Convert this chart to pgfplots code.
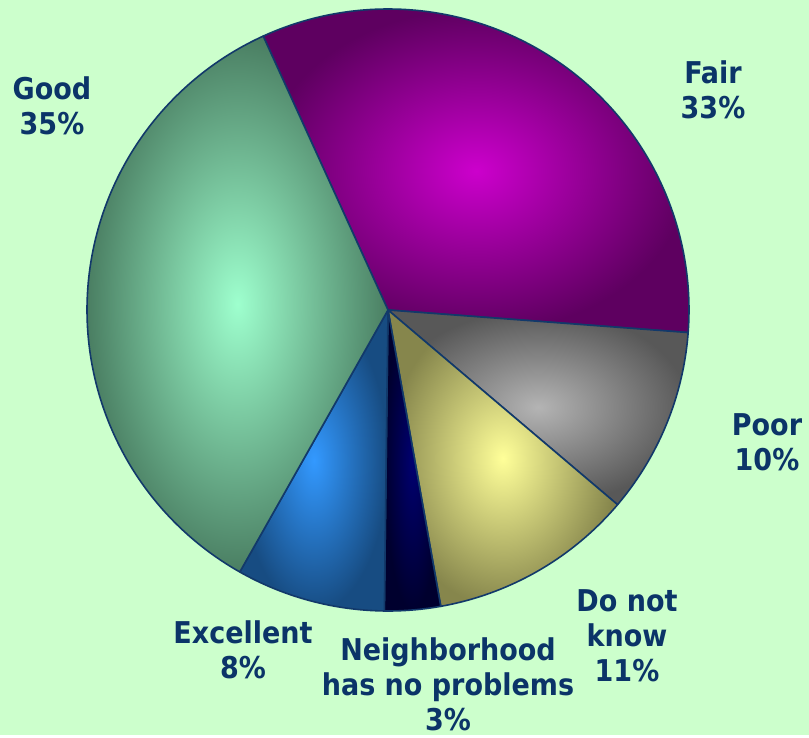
\documentclass[border=0pt]{standalone}
\usepackage{fontspec}
\setmainfont{DejaVu Sans Condensed}
\usepackage{pgfplots}
\pgfplotsset{compat=1.18}
\definecolor{bg}{HTML}{CCFFCC}
\definecolor{lbl}{HTML}{0B3468}
\definecolor{outline}{HTML}{12396A}
\definecolor{fairL}{HTML}{CC00CC}\definecolor{fairD}{HTML}{5E0060}
\definecolor{poorL}{HTML}{B4B4B4}\definecolor{poorD}{HTML}{585858}
\definecolor{dnkL}{HTML}{FFFF99}\definecolor{dnkD}{HTML}{86864C}
\definecolor{nbL}{HTML}{000070}\definecolor{nbD}{HTML}{00002E}
\definecolor{excL}{HTML}{3399FF}\definecolor{excD}{HTML}{174C82}
\definecolor{goodL}{HTML}{9EFFCE}\definecolor{goodD}{HTML}{4A7E62}
\def\cx{388}\def\cy{425}\def\rr{301}
\gdef\curang{114.5}
\newcommand\slice[3]{%
  \pgfmathsetmacro\endang{\curang-3.6*#1}%
  \edef\temp{%
   \noexpand\addplot[draw=outline, line width=0.8pt, line join=round, mark=none, inner color=#2, outer color=#3,
     domain=\curang:\endang, samples=120, variable=\noexpand\t]
     ({\cx+\rr*cos(\noexpand\t)},{\cy+\rr*sin(\noexpand\t)}) -- (axis cs:\cx,\cy) -- cycle;
  }%
  \temp
  \global\let\curang\endang}
\begin{document}
\begin{tikzpicture}
\begin{axis}[
  width=404.5pt, height=367.5pt, scale only axis,
  xmin=0, xmax=809, ymin=0, ymax=735,
  hide axis, clip=false]
\fill[bg] (axis cs:0,0) rectangle (axis cs:809,735);
\slice{33}{fairL}{fairD}
\slice{10}{poorL}{poorD}
\slice{11}{dnkL}{dnkD}
\slice{3}{nbL}{nbD}
\slice{8}{excL}{excD}
\slice{35}{goodL}{goodD}
\begin{scope}[every node/.style={font=\fontsize{15}{17.5}\selectfont\bfseries, text=lbl, align=center}]
\node at (axis cs:52,629) {Good\\35\%};
\node at (axis cs:713,645) {Fair\\33\%};
\node at (axis cs:767,293) {Poor\\10\%};
\node at (axis cs:627,99) {Do not\\know\\11\%};
\node at (axis cs:448,51) {Neighborhood\\has no problems\\3\%};
\node at (axis cs:243,85) {Excellent\\8\%};
\end{scope}
\end{axis}
\end{tikzpicture}
\end{document}
